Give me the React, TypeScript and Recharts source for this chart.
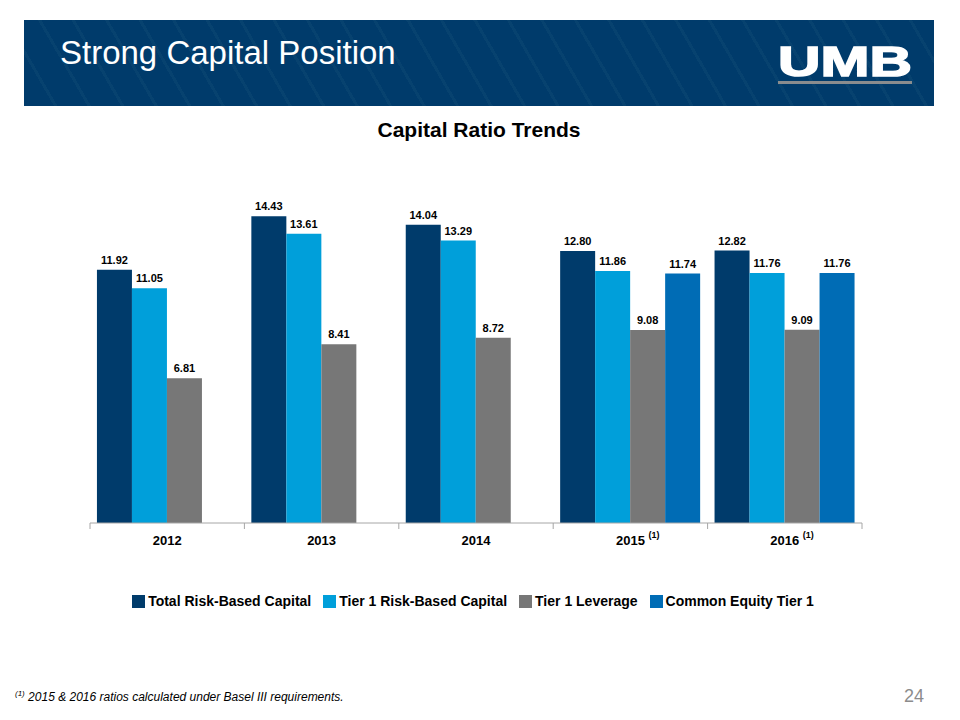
import { Bar, BarChart, LabelList, XAxis, YAxis } from 'recharts';

const years = ['2012', '2013', '2014', '2015', '2016'];
const footnoted = ['2015', '2016'];
const totalRiskBased = [11.92, 14.43, 14.04, 12.8, 12.82];
const tier1RiskBased = [11.05, 13.61, 13.29, 11.86, 11.76];
const tier1Leverage = [6.81, 8.41, 8.72, 9.08, 9.09];
const commonEquityTier1 = [null, null, null, 11.74, 11.76];

const series = [
  { key: 'total', name: 'Total Risk-Based Capital', color: '#003B6B' },
  { key: 'tier1', name: 'Tier 1 Risk-Based Capital', color: '#009FDA' },
  { key: 'leverage', name: 'Tier 1 Leverage', color: '#777777' },
  { key: 'cet1', name: 'Common Equity Tier 1', color: '#006CB5' },
];

const data = years.map((year, i) => ({
  year,
  total: totalRiskBased[i],
  tier1: tier1RiskBased[i],
  leverage: tier1Leverage[i],
  cet1: commonEquityTier1[i],
}));

const FONT = '"Liberation Sans", Arial, sans-serif';
const AXIS_Y = 523;

function YearTick(props: any) {
  const { x, payload, bandwidth } = props;
  const half = (bandwidth ?? 154.4) / 2;
  const year = payload.value as string;
  return (
    <g>
      <line x1={x - half} x2={x - half} y1={AXIS_Y} y2={AXIS_Y + 6} stroke="#A6A6A6" />
      {year === years[years.length - 1] && (
        <line x1={x + half} x2={x + half} y1={AXIS_Y} y2={AXIS_Y + 6} stroke="#A6A6A6" />
      )}
      <text x={x} y={AXIS_Y + 22} textAnchor="middle" fontFamily={FONT} fontWeight={700} fontSize={13} fill="#000">
        {year}
      </text>
      {footnoted.includes(year) && (
        <text x={x + 18} y={AXIS_Y + 15} fontFamily={FONT} fontWeight={700} fontSize={9} fill="#000">
          (1)
        </text>
      )}
    </g>
  );
}

function LegendContent() {
  return (
    <div
      style={{
        display: 'flex',
        justifyContent: 'center',
        gap: 12,
        fontFamily: FONT,
        fontWeight: 700,
        fontSize: 14,
        color: '#000',
      }}
    >
      {series.map((s) => (
        <div key={s.key} style={{ display: 'flex', alignItems: 'center' }}>
          <span style={{ width: 13, height: 13, background: s.color, marginRight: 3, display: 'inline-block' }} />
          {s.name}
        </div>
      ))}
    </div>
  );
}

export default function App() {
  return (
    <div style={{ position: 'absolute', left: 0, top: 0, width: 960, height: 720, background: '#fff', overflow: 'hidden' }}>
      {/* header band */}
      <div
        style={{
          position: 'absolute',
          left: 24,
          top: 20,
          width: 910,
          height: 86,
          background:
            'repeating-linear-gradient(60deg, #003B6B 0px, #003B6B 26px, #07426F 26px, #07426F 29px)',
        }}
      />
      <div
        style={{
          position: 'absolute',
          left: 60,
          top: 34,
          fontFamily: FONT,
          fontSize: 33,
          color: '#fff',
        }}
      >
        Strong Capital Position
      </div>
      <svg style={{ position: 'absolute', left: 770, top: 38 }} width={150} height={50}>
        <text
          x={8}
          y={38}
          textLength={134}
          lengthAdjust="spacingAndGlyphs"
          fontFamily={FONT}
          fontWeight={900}
          fontSize={42}
          fill="#fff"
          stroke="#fff"
          strokeWidth={1.5}
        >
          UMB
        </text>
        <rect x={8} y={43} width={134} height={3} fill="#8A8C8E" />
      </svg>

      <div
        style={{
          position: 'absolute',
          left: 0,
          top: 118,
          width: 958,
          textAlign: 'center',
          fontFamily: FONT,
          fontWeight: 700,
          fontSize: 21,
          color: '#000',
        }}
      >
        Capital Ratio Trends
      </div>

      <div style={{ position: 'absolute', left: 0, top: 0 }}>
        <BarChart
          width={960}
          height={720}
          data={data}
          margin={{ top: 183, right: 98, bottom: 167, left: 90 }}
          barCategoryGap="4.5%"
          barGap={0}
        >
          <YAxis hide domain={[0, 16]} />
          <XAxis
            dataKey="year"
            height={30}
            axisLine={{ stroke: '#A6A6A6' }}
            tickLine={false}
            tick={<YearTick />}
            interval={0}
          />
          {series.map((s) => (
            <Bar key={s.key} dataKey={s.key} name={s.name} fill={s.color} isAnimationActive={false}>
              <LabelList
                dataKey={s.key}
                position="top"
                offset={6}
                formatter={(v: any) => (v == null ? '' : Number(v).toFixed(2))}
                style={{ fontFamily: FONT, fontWeight: 700, fontSize: 11, fill: '#000' }}
              />
            </Bar>
          ))}
        </BarChart>
      </div>

      <div style={{ position: 'absolute', left: -6, top: 593, width: 958 }}>
        <LegendContent />
      </div>

      <div
        style={{
          position: 'absolute',
          left: 15,
          top: 689,
          fontFamily: FONT,
          fontStyle: 'italic',
          fontSize: 12,
          color: '#000',
        }}
      >
        <sup style={{ fontSize: 8 }}>(1)</sup> 2015 &amp; 2016 ratios calculated under Basel III requirements.
      </div>
      <div
        style={{
          position: 'absolute',
          left: 904,
          top: 686,
          fontFamily: FONT,
          fontSize: 18,
          color: '#8C8C8C',
        }}
      >
        24
      </div>
    </div>
  );
}
